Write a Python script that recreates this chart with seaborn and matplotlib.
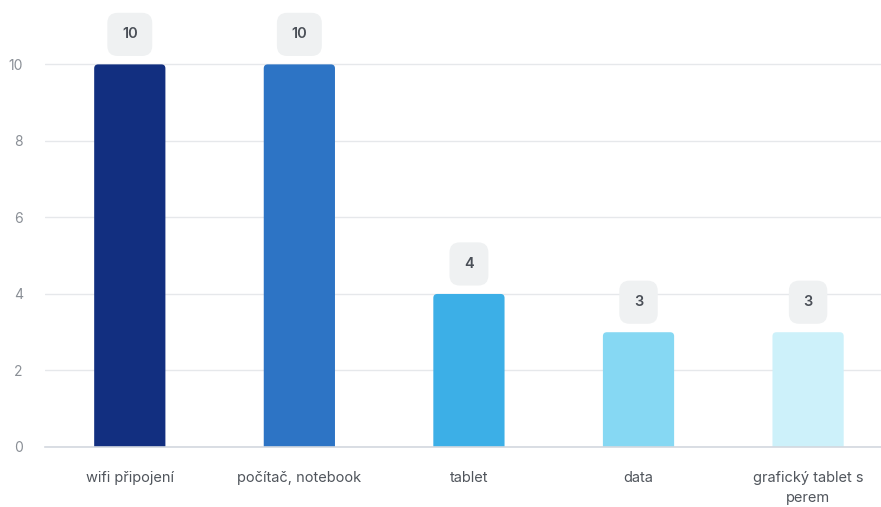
import pandas as pd
import seaborn as sns
import matplotlib.pyplot as plt
from matplotlib.patches import FancyBboxPatch

categories = ["wifi připojení", "počítač, notebook", "tablet", "data",
              "grafický tablet s\nperem"]
counts = [10, 10, 4, 3, 3]
colors = ["#122f80", "#2d74c5", "#3cafe7", "#86d8f3", "#cdf1fa"]
y_ticks = [0, 2, 4, 6, 8, 10]


def round_bars(ax):
    # swap the plain rectangles for ones with rounded corners
    px_x = 1 / 169.5
    px_y = 1 / 38.3
    for bar in list(ax.patches):
        x, y = bar.get_x(), bar.get_y()
        w, h = bar.get_width(), bar.get_height()
        fancy = FancyBboxPatch((x, y - 0.3), w, h + 0.3,
                               boxstyle=f"round,pad=0,rounding_size={4 * px_x}",
                               mutation_aspect=px_y / px_x,
                               fc=bar.get_facecolor(), ec="none", zorder=2)
        bar.remove()
        ax.add_patch(fancy)


def main():
    df = pd.DataFrame({"kategorie": categories, "pocet": counts})
    sns.set_theme(style="white")
    plt.rcParams['font.family'] = ['Inter', 'DejaVu Sans']

    fig = plt.figure(figsize=(8.81, 5.07), dpi=100)
    ax = fig.add_axes([45 / 881, 60 / 507, 836 / 881, 440 / 507])

    sns.barplot(data=df, x="kategorie", y="pocet", hue="kategorie",
                palette=colors, width=0.42, legend=False, ax=ax,
                saturation=1, edgecolor="none")
    round_bars(ax)

    ax.set_xlim(-0.5, 4.43)
    ax.set_ylim(0, 11.5)
    ax.set_yticks(y_ticks)
    ax.grid(axis="y", color="#e6e8eb", linewidth=1)
    ax.set_axisbelow(True)
    for side in ["top", "right", "left"]:
        ax.spines[side].set_visible(False)
    ax.spines["bottom"].set_color("#d3d8df")
    ax.spines["bottom"].set_linewidth(1.2)
    ax.spines["bottom"].set_zorder(3)

    ax.set_xlabel("")
    ax.set_ylabel("")
    ax.tick_params(axis="x", length=0, pad=17, labelsize=10.5,
                   labelcolor="#50555c")
    ax.tick_params(axis="y", length=0, pad=16, labelsize=10,
                   labelcolor="#8a8f96")
    for lbl in ax.get_xticklabels():
        lbl.set_linespacing(1.6)

    for i, v in enumerate(counts):
        ax.annotate(str(v), xy=(i, v), xytext=(0, 30),
                    textcoords="offset pixels",
                    ha="center", va="center", fontsize=10.5,
                    fontweight="semibold", color="#4a4f57",
                    bbox=dict(boxstyle="round,pad=1.0,rounding_size=0.7",
                              fc="#eff1f2", ec="none"))

    plt.savefig("out.png", dpi=100)


if __name__ == '__main__':
    main()
